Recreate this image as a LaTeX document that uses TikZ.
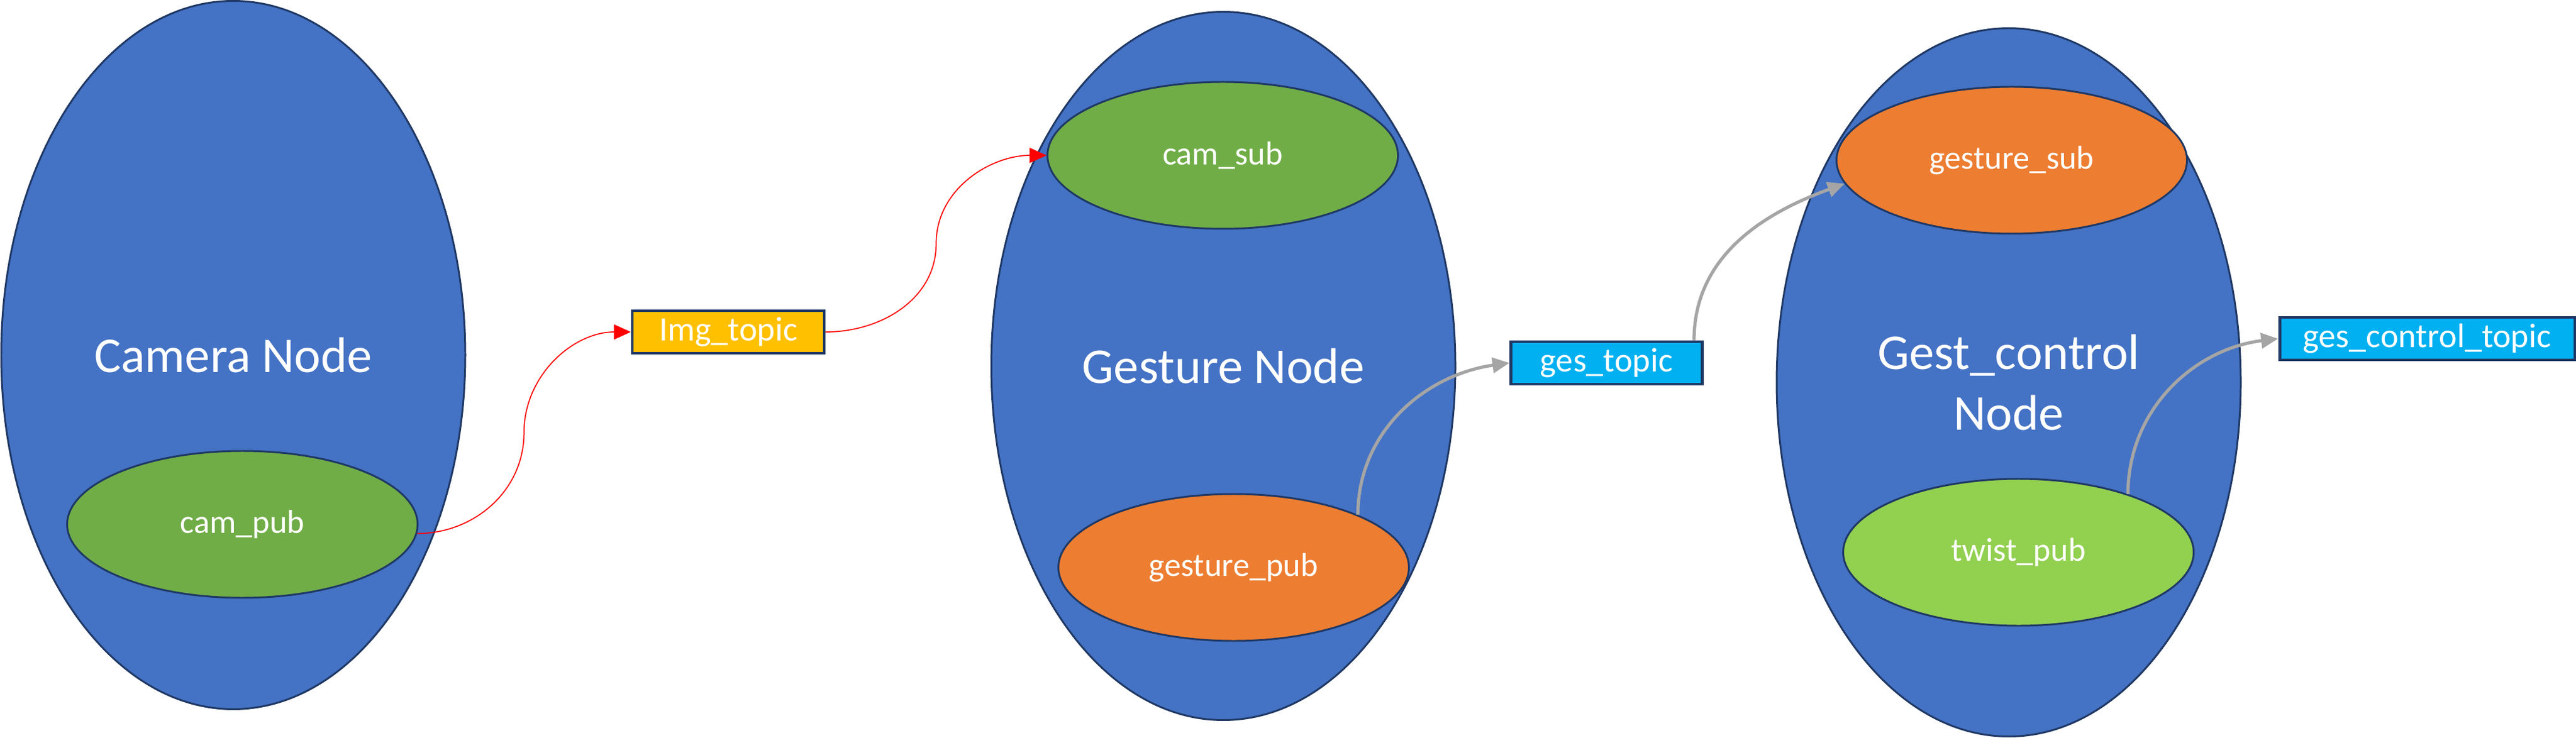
\documentclass[tikz,border=0pt]{standalone}
\usepackage{fontspec}
\setmainfont{Carlito}
\usetikzlibrary{shapes.geometric,arrows.meta,calc}

\definecolor{nodeblue}{HTML}{4472C4}
\definecolor{outline}{HTML}{1F3864}
\definecolor{pubgreen}{HTML}{70AD47}
\definecolor{lightgreen}{HTML}{92D050}
\definecolor{suborange}{HTML}{ED7D31}
\definecolor{topicyellow}{HTML}{FFC000}
\definecolor{topicblue}{HTML}{00B0F0}
\definecolor{arrowgray}{HTML}{A5A5A5}

\begin{document}
\begin{tikzpicture}
    \useasboundingbox (0,0) rectangle (42.41,-12.16);
    \begin{scope}[big/.style={ellipse, draw=outline, fill=nodeblue, line width=0.85pt, minimum width=7.64cm, minimum height=11.67cm, inner sep=0pt, text=white, align=center, font=\fontsize{23.5}{28.5}\selectfont},
        small/.style={ellipse, draw=outline, line width=0.85pt, minimum width=5.77cm, minimum height=2.42cm, inner sep=0pt, text=white, font=\fontsize{15.5}{18}\selectfont},
        topic/.style={draw=outline, line width=1.4pt, minimum height=0.7cm, inner sep=0pt, text=white, font=\fontsize{16}{19}\selectfont},
        >={Triangle[length=0.28cm,width=0.25cm]}]
        \node[big] (n1) at (3.84, -5.85) {Camera Node};
        \node[big] (n2) at (20.14, -6.03) {Gesture Node};
        \node[big] (n3) at (33.07, -6.30) {Gest\_control\\Node};
        \node[small, fill=pubgreen] (e1) at (3.99, -8.64) {cam\_pub};
        \node[small, fill=pubgreen] (e2) at (20.13, -2.56) {cam\_sub};
        \node[small, fill=suborange] (e3) at (20.31, -9.35) {gesture\_pub};
        \node[small, fill=suborange] (e4) at (33.12, -2.64) {gesture\_sub};
        \node[small, fill=lightgreen] (e5) at (33.23, -9.10) {twist\_pub};
        \node[topic, fill=topicyellow, minimum width=3.16cm] (t1) at (11.99, -5.47) {Img\_topic};
        \node[topic, fill=topicblue, minimum width=3.15cm] (t2) at (26.45, -5.98) {ges\_topic};
        \node[topic, fill=topicblue, minimum width=4.86cm] (t3) at (39.96, -5.58) {ges\_control\_topic};
        \begin{scope}[red, line width=0.5pt]
        \draw[->] (e1.-3) to[out=0, in=-90] ($(e1.-3)!0.5!(t1.west)$) to[out=90, in=180] (t1.west);
        \draw[->] (t1.east) to[out=0, in=-90] ($(t1.east)!0.5!(e2.west)$) to[out=90, in=180] (e2.west);
        \end{scope}
        \begin{scope}[arrowgray, line width=1.5pt]
        \draw[->] (e3.23) to[out=90, in=188] (t2.west);
        \draw[->] ([xshift=-0.16cm]t2.north east) to[out=90, in=200] (e4.188);
        \draw[->] (e5.28) to[out=90, in=187] (t3.west);
        \end{scope}
    \end{scope}
\end{tikzpicture}
\end{document}
